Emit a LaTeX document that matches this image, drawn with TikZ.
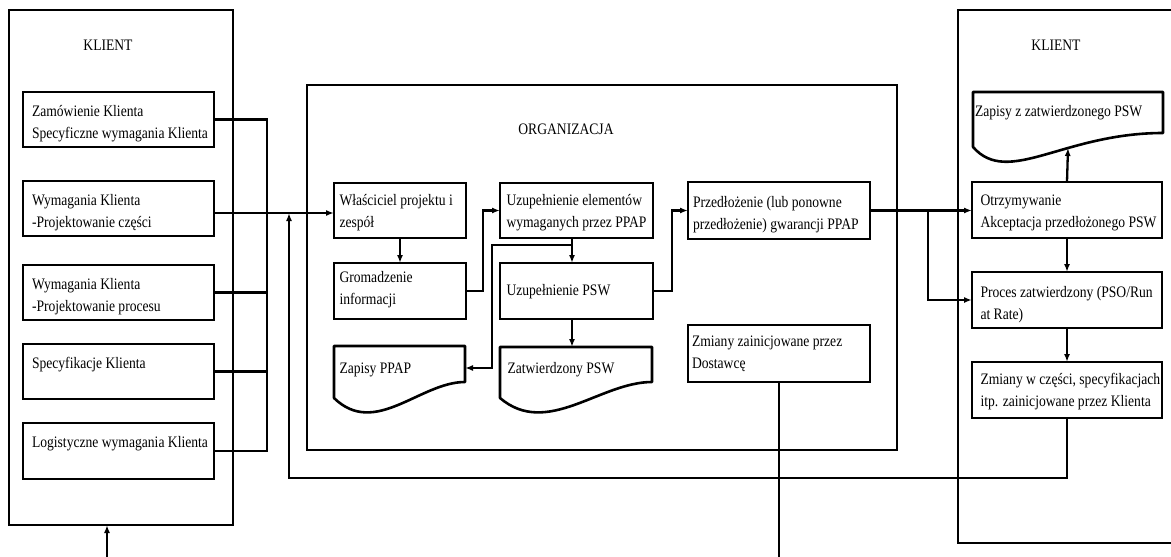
\documentclass[tikz,border=0pt]{standalone}
\usepackage{fontspec}
\setmainfont{Liberation Serif}[FakeStretch=0.85]
\usetikzlibrary{arrows.meta,calc}
\begin{document}
\begin{tikzpicture}[x=1pt,y=-1pt,
  box/.style={draw, line width=2.6pt, inner sep=0pt, outer sep=0pt, anchor=north west},
  doc/.style={inner sep=0pt, outer sep=0pt, anchor=north west},
  docline/.style={line width=2.6pt, line join=round},
  lbl/.style={anchor=north west, inner sep=0pt, outer sep=0pt, align=left, font=\fontsize{16}{22}\selectfont},
  ttl/.style={anchor=base, inner sep=0pt, outer sep=0pt, font=\fontsize{16}{22}\selectfont},
  conn/.style={line width=2.3pt},
  arr/.style={conn, -{Latex[length=8pt,width=6pt]}},
]
\useasboundingbox (0,0) rectangle (1171,557);

% containers
\node[box, minimum width=224pt, minimum height=515pt] (KL) at (9,10) {};
\node[ttl] (KLt) at (108,50) {KLIENT};
\draw[line width=2.6pt] (1171,10) -- (958,10) -- (958,543) -- (1171,543);
\node[ttl] (KRt) at (1056,50) {KLIENT};
\node[box, minimum width=590pt, minimum height=365pt] (ORG) at (307,85) {};
\node[ttl] (ORGt) at (566,134) {ORGANIZACJA};

% left client boxes
\node[box, minimum width=191pt, minimum height=55pt] (L1) at (23,92) {};
\node[lbl] (L1t) at ([shift={(9,9.1)}]L1.north west) {\strut Zamówienie Klienta\\Specyficzne wymagania Klienta};
\node[box, minimum width=191pt, minimum height=55pt] (L2) at (23,181) {};
\node[lbl] (L2t) at ([shift={(9,9.1)}]L2.north west) {\strut Wymagania Klienta\\-Projektowanie części};
\node[box, minimum width=191pt, minimum height=55pt] (L3) at (23,265) {};
\node[lbl] (L3t) at ([shift={(9,9.1)}]L3.north west) {\strut Wymagania Klienta\\-Projektowanie procesu};
\node[box, minimum width=191pt, minimum height=55pt] (L4) at (23,344) {};
\node[lbl] (L4t) at ([shift={(9,9.1)}]L4.north west) {\strut Specyfikacje Klienta};
\node[box, minimum width=191pt, minimum height=56pt] (L5) at (23,423) {};
\node[lbl] (L5t) at ([shift={(9,9.1)}]L5.north west) {\strut Logistyczne wymagania Klienta};

% organisation boxes
\node[box, minimum width=132pt, minimum height=55pt] (W) at (334,183) {};
\node[lbl] (Wt) at ([shift={(5.5,6.6)}]W.north west) {\strut Właściciel projektu i\\zespół};
\node[box, minimum width=132pt, minimum height=56pt] (G) at (334,263) {};
\node[lbl] (Gt) at ([shift={(5.5,3.6)}]G.north west) {\strut Gromadzenie\\informacji};
\node[box, minimum width=153pt, minimum height=55pt] (UE) at (500,183) {};
\node[lbl] (UEt) at ([shift={(6.5,6.6)}]UE.north west) {\strut Uzupełnienie elementów\\wymaganych przez PPAP};
\node[box, minimum width=153pt, minimum height=56pt] (UP) at (500,263) {};
\node[lbl] (UPt) at ([shift={(6.5,16.6)}]UP.north west) {\strut Uzupełnienie PSW};
\node[box, minimum width=182pt, minimum height=57pt] (PR) at (688,182) {};
\node[lbl] (PRt) at ([shift={(5,9.6)}]PR.north west) {\strut Przedłożenie (lub ponowne\\przedłożenie) gwarancji PPAP};
\node[box, minimum width=182pt, minimum height=57pt] (ZD) at (688,325) {};
\node[lbl] (ZDt) at ([shift={(4,5.6)}]ZD.north west) {\strut Zmiany zainicjowane przez\\Dostawcę};

% documents
\node[doc, minimum width=131pt, minimum height=52pt] (ZP) at (334,346) {};
\draw[docline] (ZP.south west) -- (ZP.north west) -- (ZP.north east) -- ([shift={(0,-16)}]ZP.south east)
  .. controls ([shift={(86,-16)}]ZP.south west) and ([shift={(41,40)}]ZP.south west) .. (ZP.south west) -- cycle;
\node[lbl] (ZPt) at ([shift={(5.5,11.6)}]ZP.north west) {\strut Zapisy PPAP};
\node[doc, minimum width=152pt, minimum height=51pt] (ZS) at (500,347) {};
\draw[docline] (ZS.south west) -- (ZS.north west) -- (ZS.north east) -- ([shift={(0,-16)}]ZS.south east)
  .. controls ([shift={(100,-16)}]ZS.south west) and ([shift={(47,40)}]ZS.south west) .. (ZS.south west) -- cycle;
\node[lbl] (ZSt) at ([shift={(7.5,10.6)}]ZS.north west) {\strut Zatwierdzony PSW};

% right client
\node[doc, minimum width=190pt, minimum height=55pt] (RZ) at (973,92) {};
\draw[docline] (RZ.south west) -- (RZ.north west) -- (RZ.north east) -- ([shift={(0,-14)}]RZ.south east)
  .. controls ([shift={(90,-14)}]RZ.south west) and ([shift={(35,40)}]RZ.south west) .. (RZ.south west) -- cycle;
\node[lbl] (RZt) at ([shift={(2,8.6)}]RZ.north west) {\strut Zapisy z zatwierdzonego PSW};
\node[box, minimum width=190pt, minimum height=56pt] (RO) at (972,182) {};
\node[lbl] (ROt) at ([shift={(8.5,7.6)}]RO.north west) {\strut Otrzymywanie\\Akceptacja przedłożonego PSW};
\node[box, minimum width=190pt, minimum height=56pt] (RP) at (972,272) {};
\node[lbl] (RPt) at ([shift={(8.5,9.6)}]RP.north west) {\strut Proces zatwierdzony (PSO/Run\\at Rate)};
\node[box, minimum width=190pt, minimum height=56pt] (RC) at (972,362) {};
\node[lbl] (RCt) at ([shift={(8.5,6.6)}]RC.north west) {\strut Zmiany w części, specyfikacjach\\itp. zainicjowane przez Klienta};

% helper coordinates
\coordinate (cx) at (267,0);
\coordinate (inY) at (0,213);
\coordinate (fbX) at (289,0);
\coordinate (fbY) at (0,478);
\coordinate (gx) at (483,0);
\coordinate (ux) at (572,0);
\coordinate (by) at (0,245);
\coordinate (bx) at (492,0);
\coordinate (zy) at (0,368);
\coordinate (px) at (672,0);
\coordinate (bx2) at (928,0);
\coordinate (RZb) at (1068,148);
\coordinate (bot) at (0,557);
\coordinate (kin) at (107,557);

% left collectors
\draw[conn] (L1.east) -| (cx |- L5.east) -- (L5.east);
\draw[conn] (L3.east) -- (cx |- L3.east);
\draw[conn] (L4.east) -- (cx |- L4.east);
\draw[arr] (L2.east |- inY) -- (W.west |- inY);

% organisation flow
\draw[arr] (W.south) -- (G.north);
\draw[arr] (G.east) -- (G.east -| gx) |- (UE.west);
\draw[arr] (ux |- UE.south) -- (ux |- UP.north);
\draw[arr] (ux |- by) -| (bx |- zy) -- (ZP.north east |- zy);
\draw[arr] (ux |- UP.south) -- (ux |- ZS.north);
\draw[arr] (UP.east) -- (UP.east -| px) |- (PR.west);
\draw[arr] (PR.east) -- (PR.east -| RO.west);
\draw[arr] (PR.east -| bx2) |- (RP.west);

% right flow
\draw[arr] (RO.north) -- (RZb);
\draw[arr] (RO.south) -- (RP.north);
\draw[arr] (RP.south) -- (RC.north);
\draw[arr] (RC.south) -- (RC.south |- fbY) -| (fbX |- inY);

% bottom
\draw[conn] (ZD.south) -- (ZD.south |- bot);
\draw[arr] (kin) -- (kin |- KL.south);
\end{tikzpicture}
\end{document}
